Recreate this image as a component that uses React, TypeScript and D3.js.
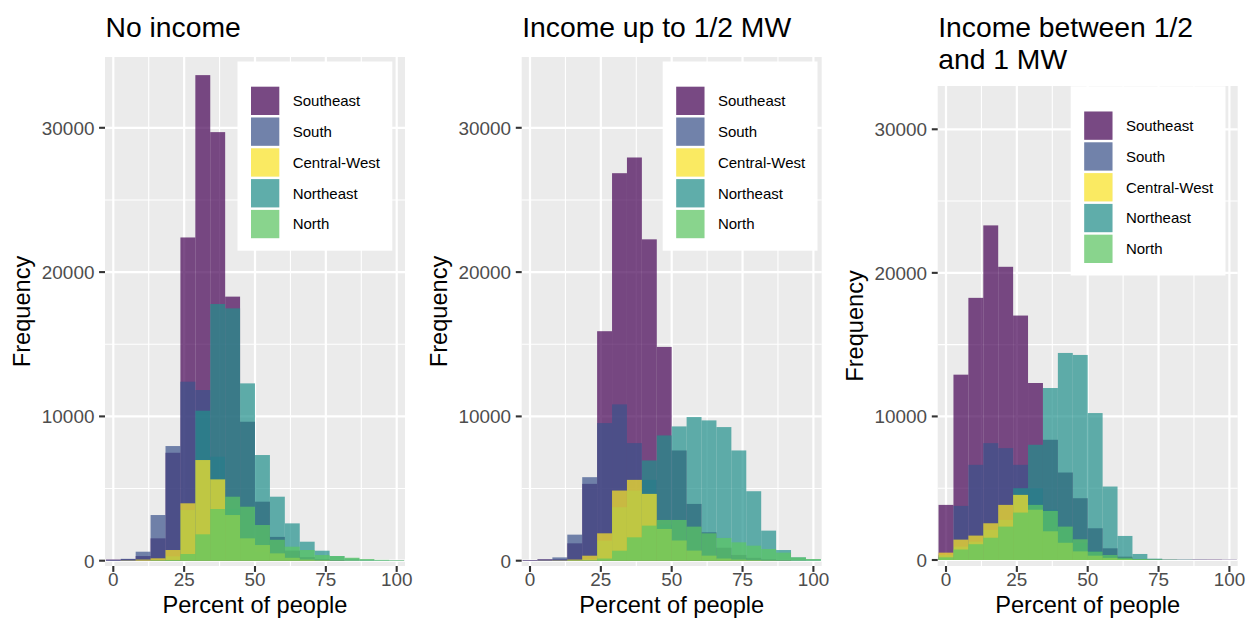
import React from 'react';
import * as d3 from 'd3';

// Regions in legend order and the order their histograms are layered
const legendOrder = ['Southeast', 'South', 'Central-West', 'Northeast', 'North'];
const drawOrder = ['Southeast', 'South', 'Northeast', 'Central-West', 'North'];
const regionColors: Record<string, string> = {
  Southeast: '#440154',
  South: '#3B528B',
  Northeast: '#21908C',
  North: '#5DC863',
  'Central-West': '#FDE725',
};

// 20 bins spanning 0..100 percent, centred on the bin midpoints
const binCount = 20;
const binWidth = 100 / (binCount - 1);
const binCenters = d3.range(binCount).map((i) => i * binWidth);

const xTicks = [0, 25, 50, 75, 100];
const xMinor = [12.5, 37.5, 62.5, 87.5];
const yTicks = [0, 10000, 20000, 30000];
const yMinor = [5000, 15000, 25000];

// Counts per bin — No income
const noIncomeSoutheast = [80, 110, 323, 1550, 7480, 22400, 33650, 29700, 18300, 9630, 4090, 1650, 700, 250, 100, 50, 20, 10, 5, 10];
const noIncomeSouth = [60, 130, 624, 3165, 7946, 12405, 11827, 7207, 3600, 1500, 600, 200, 80, 30, 10, 5, 0, 0, 0, 0];
const noIncomeNortheast = [0, 10, 10, 50, 300, 3510, 10395, 17787, 17487, 12289, 7323, 4435, 2587, 1317, 693, 323, 160, 80, 40, 20];
const noIncomeCentralWest = [0, 20, 80, 166, 741, 3978, 6976, 5636, 3165, 1548, 1086, 508, 200, 80, 30, 10, 5, 0, 0, 0];
const noIncomeNorth = [0, 0, 0, 20, 50, 464, 1829, 3583, 4435, 3742, 2472, 1450, 970, 740, 393, 323, 208, 115, 60, 40];

// Counts per bin — Income up to 1/2 MW
const halfMwSoutheast = [50, 100, 100, 1204, 5325, 15904, 26854, 27942, 22270, 14816, 7640, 3935, 1968, 900, 400, 200, 100, 50, 20, 10];
const halfMwSouth = [30, 80, 230, 1806, 5788, 9538, 10834, 8149, 5602, 2500, 1200, 500, 200, 100, 40, 20, 10, 0, 0, 0];
const halfMwNortheast = [0, 0, 10, 50, 100, 1389, 3704, 4861, 6945, 8681, 9306, 9955, 9723, 9260, 7640, 4815, 2084, 740, 231, 100];
const halfMwCentralWest = [0, 10, 20, 80, 347, 1898, 4861, 5602, 4630, 2200, 1400, 700, 350, 150, 80, 40, 20, 10, 0, 0];
const halfMwNorth = [0, 0, 0, 10, 20, 150, 694, 1620, 2430, 2824, 2824, 2361, 1898, 1574, 1273, 1042, 810, 560, 231, 116];

// Counts per bin — Income between 1/2 and 1 MW
const oneMwSoutheast = [3838, 12909, 18259, 23306, 20422, 17026, 12328, 8374, 6094, 4303, 2210, 814, 230, 60, 30, 20, 20, 30, 30, 20];
const oneMwSouth = [250, 3768, 6629, 8141, 7792, 6629, 5000, 3500, 2200, 1200, 600, 250, 100, 40, 10, 5, 0, 0, 0, 0];
const oneMwNortheast = [350, 930, 1280, 2093, 2791, 5000, 8025, 11979, 14421, 14282, 10234, 5117, 1675, 419, 93, 30, 20, 10, 5, 5];
const oneMwCentralWest = [512, 1420, 1700, 2559, 3838, 4536, 3500, 2000, 1200, 600, 300, 150, 60, 20, 10, 5, 0, 0, 0, 0];
const oneMwNorth = [186, 730, 1100, 1550, 2326, 3303, 3838, 3419, 2326, 1442, 582, 349, 163, 70, 30, 10, 5, 0, 0, 0];

interface PanelSpec {
  titleLines: string[];
  series: Record<string, number[]>;
  left: number;
  top: number;
  yDomain: [number, number];
  legendX: number;
  legendY: number;
}

const panels: PanelSpec[] = [
  {
    titleLines: ['No income'],
    series: {
      Southeast: noIncomeSoutheast,
      South: noIncomeSouth,
      Northeast: noIncomeNortheast,
      'Central-West': noIncomeCentralWest,
      North: noIncomeNorth,
    },
    left: 105,
    top: 57,
    yDomain: [-367, 34906],
    legendX: 237.5,
    legendY: 61.5,
  },
  {
    titleLines: ['Income up to 1/2 MW'],
    series: {
      Southeast: halfMwSoutheast,
      South: halfMwSouth,
      Northeast: halfMwNortheast,
      'Central-West': halfMwCentralWest,
      North: halfMwNorth,
    },
    left: 521.7,
    top: 57,
    yDomain: [-367, 34906],
    legendX: 662.7,
    legendY: 61.5,
  },
  {
    titleLines: ['Income between 1/2', 'and 1 MW'],
    series: {
      Southeast: oneMwSoutheast,
      South: oneMwSouth,
      Northeast: oneMwNortheast,
      'Central-West': oneMwCentralWest,
      North: oneMwNorth,
    },
    left: 937.7,
    top: 86,
    yDomain: [-418, 33015],
    legendX: 1070.7,
    legendY: 86.3,
  },
];

const FONT = '"Liberation Sans", Arial, Helvetica, sans-serif';
const PANEL_W = 300;
const PANEL_BOTTOM = 566;
const TICK_LEN = 5.9;

function Panel({ spec, idx }: { spec: PanelSpec; idx: number }) {
  const { left, top } = spec;
  const right = left + PANEL_W;
  const x = d3.scaleLinear().domain([-2.93, 102.93]).range([left, right]);
  const y = d3.scaleLinear().domain(spec.yDomain).range([PANEL_BOTTOM, top]);
  const clipId = `panel-clip-${idx}`;
  const midX = (left + right) / 2;
  const midY = (top + PANEL_BOTTOM) / 2;

  return (
    <g>
      <defs>
        <clipPath id={clipId}>
          <rect x={left} y={top} width={PANEL_W} height={PANEL_BOTTOM - top} />
        </clipPath>
      </defs>
      {/* title */}
      {spec.titleLines.map((line, i) => (
        <text key={i} x={left + 0.5} y={36.7 + i * 32} fontSize={28.3} fill="#000" fontFamily={FONT}>
          {line}
        </text>
      ))}
      {/* panel background and grid */}
      <rect x={left} y={top} width={PANEL_W} height={PANEL_BOTTOM - top} fill="#EBEBEB" />
      {xMinor.map((v) => (
        <line key={`xm${v}`} x1={x(v)} x2={x(v)} y1={top} y2={PANEL_BOTTOM} stroke="#fff" strokeWidth={1.1} />
      ))}
      {yMinor.map((v) => (
        <line key={`ym${v}`} x1={left} x2={right} y1={y(v)} y2={y(v)} stroke="#fff" strokeWidth={1.1} />
      ))}
      {xTicks.map((v) => (
        <line key={`xg${v}`} x1={x(v)} x2={x(v)} y1={top} y2={PANEL_BOTTOM} stroke="#fff" strokeWidth={2.2} />
      ))}
      {yTicks.map((v) => (
        <line key={`yg${v}`} x1={left} x2={right} y1={y(v)} y2={y(v)} stroke="#fff" strokeWidth={2.2} />
      ))}
      {/* histograms */}
      <g clipPath={`url(#${clipId})`}>
        {drawOrder.map((region) => (
          <g key={region}>
            {spec.series[region].map((count, i) => {
              const x0 = x(binCenters[i] - binWidth / 2);
              const x1 = x(binCenters[i] + binWidth / 2);
              return (
                <rect
                  key={i}
                  x={x0}
                  y={y(count)}
                  width={x1 - x0}
                  height={y(0) - y(count)}
                  fill={regionColors[region]}
                  fillOpacity={0.7}
                />
              );
            })}
          </g>
        ))}
      </g>
      {/* y axis */}
      {yTicks.map((v) => (
        <g key={`yt${v}`}>
          <line x1={left - TICK_LEN} x2={left} y1={y(v)} y2={y(v)} stroke="#333333" strokeWidth={2.1} />
          <text
            x={left - 10.6}
            y={y(v) + 6.8}
            textAnchor="end"
            fontSize={18.9}
            fill="#4D4D4D"
            fontFamily={FONT}
          >
            {v}
          </text>
        </g>
      ))}
      {/* x axis */}
      {xTicks.map((v) => (
        <g key={`xt${v}`}>
          <line x1={x(v)} x2={x(v)} y1={PANEL_BOTTOM} y2={PANEL_BOTTOM + TICK_LEN} stroke="#333333" strokeWidth={2.1} />
          <text x={x(v)} y={586} textAnchor="middle" fontSize={18.9} fill="#4D4D4D" fontFamily={FONT}>
            {v}
          </text>
        </g>
      ))}
      <text x={midX} y={612.5} textAnchor="middle" fontSize={23.6} fill="#000" fontFamily={FONT}>
        Percent of people
      </text>
      <text
        transform={`translate(${left - 75}, ${midY}) rotate(-90)`}
        textAnchor="middle"
        fontSize={23.6}
        fill="#000"
        fontFamily={FONT}
      >
        Frequency
      </text>
      {/* legend */}
      <g>
        <rect x={spec.legendX} y={spec.legendY} width={154.8} height={189.2} fill="#fff" />
        {legendOrder.map((region, i) => {
          const ky = spec.legendY + 25.2 + i * 30.8;
          const kx = spec.legendX + 13.5;
          return (
            <g key={region}>
              <rect x={kx} y={ky} width={28.3} height={28.3} fill="#F2F2F2" />
              <rect x={kx} y={ky} width={28.3} height={28.3} fill={regionColors[region]} fillOpacity={0.7} />
              <text x={spec.legendX + 55.2} y={ky + 14.15 + 5.4} fontSize={15} fill="#000" fontFamily={FONT}>
                {region}
              </text>
            </g>
          );
        })}
      </g>
    </g>
  );
}

export default function App() {
  return (
    <svg
      width={1246}
      height={618}
      viewBox="0 0 1246 618"
      style={{ position: 'absolute', left: 0, top: 0, background: '#fff' }}
    >
      <rect x={0} y={0} width={1246} height={618} fill="#fff" />
      {panels.map((p, i) => (
        <Panel key={i} spec={p} idx={i} />
      ))}
    </svg>
  );
}
